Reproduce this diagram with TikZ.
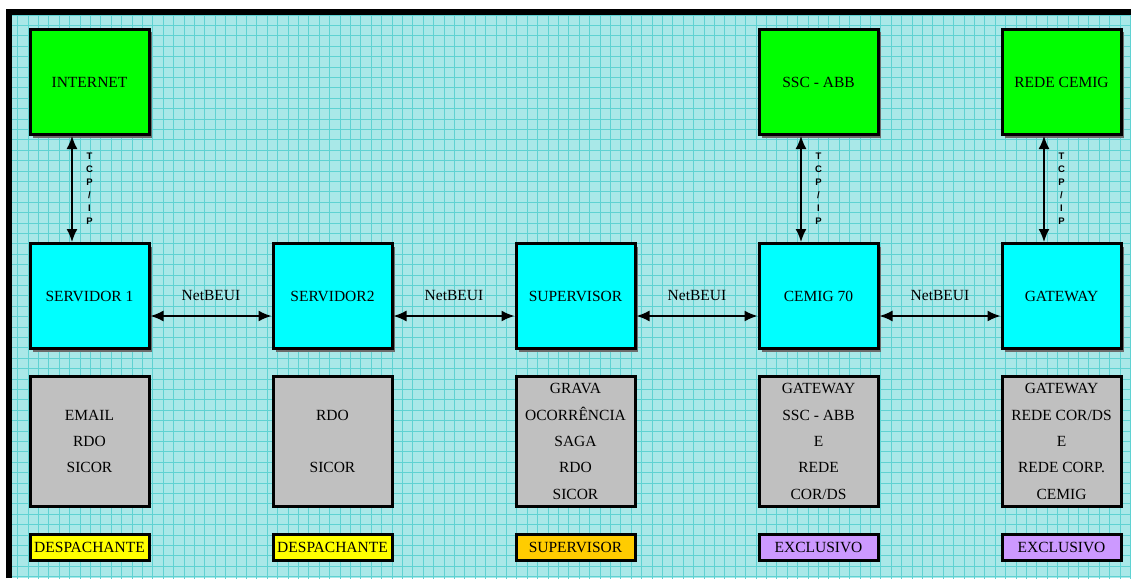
\documentclass[tikz,border=0pt]{standalone}
\usepackage{fontspec}
\setmainfont{Liberation Serif}
\setsansfont{Liberation Sans}
\usetikzlibrary{arrows.meta,shadows}

\begin{document}
\begin{tikzpicture}[x=1pt,y=-1pt,
  mybox/.style={draw=black,line width=3pt,minimum width=119pt,minimum height=105pt,inner sep=0pt,align=center,font=\fontsize{15.5}{26.3}\selectfont},
  myshadow/.style={drop shadow={shadow xshift=3pt,shadow yshift=-3pt,fill=gray!85!black,opacity=1}},
  mylabel/.style={draw=black,line width=3pt,minimum width=119pt,minimum height=26pt,inner sep=0pt,font=\fontsize{15.5}{18}\selectfont},
  myarrow/.style={{Latex[length=13pt,width=11pt]}-{Latex[length=13pt,width=11pt]},line width=1.6pt},
  proto/.style={font=\fontsize{15.5}{18}\selectfont,inner sep=0pt},
  tcpip/.style={font=\sffamily\bfseries\fontsize{9.5}{13}\selectfont,align=center,inner sep=0pt}]
\definecolor{papel}{HTML}{A9E8E8}
\definecolor{quadro}{HTML}{5FD2D2}
\definecolor{verde}{HTML}{00FF00}
\definecolor{ciano}{HTML}{00FFFF}
\definecolor{cinza}{HTML}{C0C0C0}
\definecolor{amarelo}{HTML}{FFFF00}
\definecolor{laranja}{HTML}{FFCC00}
\definecolor{lilas}{HTML}{CC99FF}
\useasboundingbox (0,0) rectangle (1131,578);
% fundo quadriculado
\fill[papel] (9,12) rectangle (1131,578);
\begin{scope}
  \clip (9,12) rectangle (1131,578);
  \draw[quadro,line width=0.7pt,step=10.4pt,shift={(-3.3,4.6)}] (0,0) grid (1150,600);
\end{scope}
\draw[line width=6pt] (9,578) -- (9,12) -- (1131,12);
% redes externas
\foreach \nome/\col in {INTERNET/0,SSC - ABB/3,REDE CEMIG/4}
  {\node[mybox,myshadow,fill=verde] (top\col) at (89.5+243*\col,82) {\nome};}
% maquinas
\foreach \nome/\col in {SERVIDOR 1/0,SERVIDOR2/1,SUPERVISOR/2,CEMIG 70/3,GATEWAY/4}
  {\node[mybox,myshadow,fill=ciano] (srv\col) at (89.5+243*\col,296) {\nome};}
% aplicativos
\node[mybox,minimum height=130pt,fill=cinza] (app0) at (89.5,441.5) {EMAIL\\RDO\\SICOR};
\node[mybox,minimum height=130pt,fill=cinza] (app1) at (332.5,441.5) {RDO\\\strut\\SICOR};
\node[mybox,minimum height=130pt,fill=cinza] (app2) at (575.5,441.5) {GRAVA\\OCORRÊNCIA\\SAGA\\RDO\\SICOR};
\node[mybox,minimum height=130pt,fill=cinza] (app3) at (818.5,441.5) {GATEWAY\\SSC - ABB\\E\\REDE\\COR/DS};
\node[mybox,minimum height=130pt,fill=cinza] (app4) at (1061.5,441.5) {GATEWAY\\REDE COR/DS\\E\\REDE CORP.\\CEMIG};
% usuarios
\foreach \txt/\crlr/\col in {DESPACHANTE/amarelo/0,DESPACHANTE/amarelo/1,SUPERVISOR/laranja/2,EXCLUSIVO/lilas/3,EXCLUSIVO/lilas/4}
  {\node[mylabel,fill=\crlr] (usr\col) at (89.5+243*\col,547.5) {\txt};}
% ligacoes
\foreach \a/\b in {0/1,1/2,2/3,3/4}
  {\draw[myarrow] ([yshift=-20pt]srv\a.east) -- ([yshift=-20pt]srv\b.west)
     node[proto,midway,yshift=21pt] (net\a) {NetBEUI};}
\foreach \col in {0,3,4}
  {\draw[myarrow] ([xshift=-17.5pt]top\col.south) -- ([xshift=-17.5pt]srv\col.north)
     node[tcpip,midway,xshift=17.5pt] (tcp\col) {T\\C\\P\\/\\I\\P};}
\end{tikzpicture}
\end{document}
